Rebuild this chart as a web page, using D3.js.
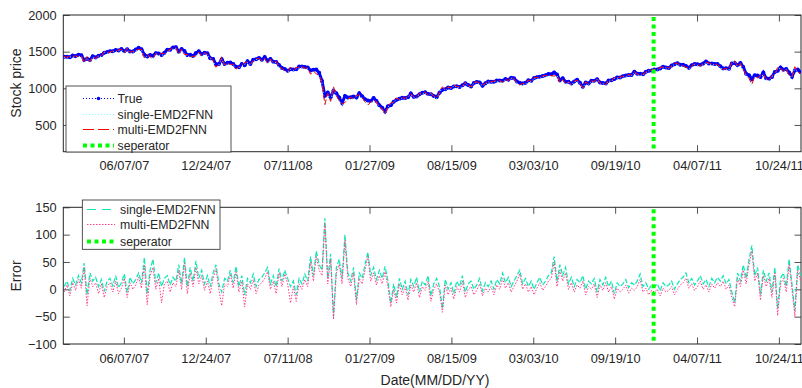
<!DOCTYPE html>
<html><head><meta charset="utf-8">
<script src="https://cdn.jsdelivr.net/npm/d3@7"></script>
<style>
body{margin:0;background:#fff}
svg{display:block}
text{font-family:"Liberation Sans",Arial,sans-serif;fill:#262626}
</style>
</head><body>
<svg id="c" width="802" height="388"></svg>
<script>
// ---- data (weekly samples, first sample on startDate) ----
const startDate = "2007-01-12";
const price = [
1430,1431,1423,1449,1438,1456,1451,1387,1402,1386,1437,1421,1444,1453,1484,1494,1505,1505,1522,1515,
1536,1507,1533,1503,1503,1530,1552,1534,1459,1434,1453,1445,1479,1474,1454,1484,1525,1527,1557,1561,
1500,1535,1509,1453,1458,1441,1481,1504,1468,1484,1478,
1411,1401,1325,1331,1396,1331,1349,1353,1331,1294,1288,1330,1316,1370,1332,1390,1398,1414,1389,1426,
1375,1400,1361,1360,1318,1278,1262,1240,1261,1257,1260,1296,1298,1292,1283,1242,1252,1255,1213,1100,
899,941,877,968,931,873,800,896,876,879,887,873,
932,890,850,832,826,869,827,770,735,683,756,768,815,843,857,870,866,877,929,883,
887,919,940,946,921,918,896,879,940,979,987,1010,1005,1026,1029,1016,1042,1068,1044,1025,
1071,1087,1080,1036,1069,1093,1091,1091,1106,1106,1102,1126,
1115,1145,1136,1092,1074,1066,1075,1109,1104,1139,1150,1159,1167,1178,1194,1192,1217,1187,1111,1136,
1088,1089,1065,1092,1117,1076,1022,1078,1065,1102,1102,1122,1079,1071,1065,1105,1110,1126,1149,1146,
1166,1176,1183,1183,1225,1200,1200,1190,1225,1240,1244,1257,1258,
1271,1293,1284,1276,1310,1329,1343,1320,1321,1304,1279,1314,1332,1329,1320,1337,1364,1340,1338,1333,
1331,1300,1271,1272,1268,1340,1344,1316,1346,1292,1199,1179,1124,1177,1174,1154,1216,1136,1131,1155,
1224,1238,1285,1253,1263,1216,1159,1244,1255,1220
];
const errSingle = [
5,15,-2,20,8,25,12,48,-10,30, 15,22,5,18,-4,15,20,6,25,3,
12,28,-6,22,10,18,30,12,58,-8, 35,55,12,30,5,20,25,8,22,15,
45,10,58,5,40,15,52,20,35,10, 25,5,30,45,10,-5,20,15,35,12,
42,5,25,-10,20,12,28,5,18,22, 30,40,10,25,5,38,15,35,20,5,
15,-10,20,10,28,15,60,25,70,45, 35,130,20,65,-50,40,55,20,100,30,
15,40,-20,30,20,45,68,25,40,18, 35,20,42,15,-25,10,-15,20,0,15,
-10,18,5,22,-5,15,8,25,-12,10, 20,5,-35,18,0,12,-8,15,5,25,
-5,10,15,0,8,20,-3,12,5,15, 0,18,10,30,12,22,5,15,25,35,
10,20,5,15,0,12,22,8,15,25, 30,60,15,45,25,40,10,22,5,18,
12,25,0,15,10,20,-5,18,8,22, 5,15,-8,12,5,10,18,3,12,8,
15,28,5,12,0,8,5,10,-3,12, 5,8,15,0,10,18,22,30,12,20,
8,15,25,10,18,5,20,12,22,15, 25,10,18,-5,-25,30,15,45,20,55,
80,25,40,-10,35,15,30,-5,40,-35, 20,30,5,55,10,-40,45,25
];
const errMulti = [
-5,8,-12,12,-2,18,2,40,-30,20, 5,12,-8,10,-15,5,12,-5,15,-8,
2,20,-15,12,0,8,22,2,45,-28, 25,40,0,20,-25,10,15,-5,12,5,
35,0,48,-8,30,5,40,10,25,-2, 15,-8,20,38,0,-30,10,5,28,2,
32,-5,15,-32,10,0,18,-8,8,12, 20,32,0,15,-8,30,5,28,10,-25,
5,-22,10,0,18,5,50,15,60,35, 25,120,10,55,-55,30,45,10,90,20,
5,30,-28,20,10,35,60,15,30,8, 25,10,32,5,-32,0,-25,10,-10,5,
-20,8,-5,12,-15,5,-2,15,-22,0, 10,-5,-42,8,-10,2,-18,5,-5,15,
-15,0,5,-10,-2,10,-12,2,-5,5, -10,8,0,20,2,12,-5,5,15,28,
0,10,-5,5,-10,2,12,-2,5,15, 20,50,5,35,15,30,0,12,-5,8,
2,15,-10,5,0,10,-15,8,-2,12, -5,5,-18,2,-5,0,8,-7,2,-2,
5,18,-5,2,-10,-2,-5,0,-12,2, -5,-2,5,-10,0,8,12,20,2,10,
-2,5,15,0,8,-5,10,2,12,5, 15,0,8,-15,-32,20,5,35,10,45,
70,15,30,-20,25,5,20,-15,30,-48, 10,20,-5,45,0,-50,35,15
];
const xTickLabels = ["06/07/07","12/24/07","07/11/08","01/27/09","08/15/09","03/03/10","09/19/10","04/07/11","10/24/11"];
const priceTicks = [500,1000,1500,2000];
const errTicks = [-100,-50,0,50,100,150];
const separatorDate = "2010-12-22";
const xLimits = ["2007-01-10","2011-12-17"];
const priceLimits = [135,2000];
const errLimits = [-100,150];

// ---- build ----
const pISO = d3.timeParse("%Y-%m-%d");
const pTick = d3.timeParse("%m/%d/%y");
const t0 = pISO(startDate);
const rows = price.map((v,i)=>({
  date: d3.timeDay.offset(t0, 7*i),
  t: v, es: errSingle[i], em: errMulti[i],
  ps: v - errSingle[i], pm: v - errMulti[i]
}));
const tickDates = xTickLabels.map(s=>pTick(s));
const sepDate = pISO(separatorDate);

const svg = d3.select("#c");
const L = 63.3, R = 801;
const x = d3.scaleTime().domain(xLimits.map(pISO)).range([L, R]);
const yT = d3.scaleLinear().domain(priceLimits).range([151.7, 15]);
const yB = d3.scaleLinear().domain(errLimits).range([344, 207.3]);
const axisCol = "#262626";
const TS = 6.5;

function panel(y, yTicks, clipId){
  const top = y.range()[1], bot = y.range()[0];
  svg.append("clipPath").attr("id",clipId).append("rect")
    .attr("x",L).attr("y",top).attr("width",R-L).attr("height",bot-top);
  const g = svg.append("g");
  const ab = g.append("g").attr("transform",`translate(0,${bot})`)
    .call(d3.axisBottom(x).tickValues(tickDates).tickFormat((d,i)=>xTickLabels[i])
      .tickSizeInner(-TS).tickSizeOuter(0).tickPadding(9.5));
  const at = g.append("g").attr("transform",`translate(0,${top})`)
    .call(d3.axisTop(x).tickValues(tickDates).tickFormat("").tickSizeInner(-TS).tickSizeOuter(0));
  const al = g.append("g").attr("transform",`translate(${L},0)`)
    .call(d3.axisLeft(y).tickValues(yTicks).tickFormat(d3.format("d")).tickSizeInner(-TS).tickSizeOuter(0).tickPadding(6.6));
  const ar = g.append("g").attr("transform",`translate(${R},0)`)
    .call(d3.axisRight(y).tickValues(yTicks).tickFormat("").tickSizeInner(-TS).tickSizeOuter(0));
  [ab,at,al,ar].forEach(a=>{
    a.select(".domain").remove();
    a.selectAll("line").attr("stroke",axisCol).attr("stroke-width",0.8);
    a.selectAll("text").attr("font-size","12.8px").attr("fill",axisCol)
      .style("font-family","'Liberation Sans',Arial,sans-serif");
  });
  g.append("rect").attr("x",L).attr("y",top).attr("width",R-L).attr("height",bot-top)
    .attr("fill","none").attr("stroke",axisCol).attr("stroke-width",1);
  return svg.append("g").attr("clip-path",`url(#${clipId})`);
}

// ---- top panel ----
const gT = panel(yT, priceTicks, "clipT");
const lineT = k => d3.line().x(d=>x(d.date)).y(d=>yT(d[k]));
gT.append("path").datum(rows).attr("d",lineT("t")).attr("fill","none")
  .attr("stroke","#0000ff").attr("stroke-width",3);
gT.selectAll("circle.t").data(rows).join("circle").attr("class","t")
  .attr("cx",d=>x(d.date)).attr("cy",d=>yT(d.t)).attr("r",2).attr("fill","#0000ff");
gT.append("path").datum(rows).attr("d",lineT("ps")).attr("fill","none")
  .attr("stroke","#7fffff").attr("stroke-width",1).attr("stroke-dasharray","1,2");
gT.append("path").datum(rows).attr("d",lineT("pm")).attr("fill","none")
  .attr("stroke","#ff0000").attr("stroke-width",1).attr("stroke-dasharray","6,3");
gT.append("line").attr("x1",x(sepDate)).attr("x2",x(sepDate))
  .attr("y1",yT.range()[1]+2).attr("y2",yT.range()[0])
  .attr("stroke","#00ff00").attr("stroke-width",4).attr("stroke-dasharray","4,3.5");

// ---- bottom panel ----
const gB = panel(yB, errTicks, "clipB");
const lineB = k => d3.line().x(d=>x(d.date)).y(d=>yB(d[k]));
gB.append("path").datum(rows).attr("d",lineB("es")).attr("fill","none")
  .attr("stroke","#10e6b4").attr("stroke-width",1.2).attr("stroke-dasharray","5,2");
gB.append("path").datum(rows).attr("d",lineB("em")).attr("fill","none")
  .attr("stroke","#ff3d8b").attr("stroke-width",1).attr("stroke-dasharray","1.5,1.5");
gB.append("line").attr("x1",x(sepDate)).attr("x2",x(sepDate))
  .attr("y1",yB.range()[1]+2).attr("y2",yB.range()[0])
  .attr("stroke","#00ff00").attr("stroke-width",4).attr("stroke-dasharray","4,3.5");

// ---- axis titles ----
svg.append("text").attr("transform","translate(21,83) rotate(-90)").attr("text-anchor","middle")
  .attr("font-size","14px").text("Stock price");
svg.append("text").attr("transform","translate(21,276) rotate(-90)").attr("text-anchor","middle")
  .attr("font-size","14px").text("Error");
svg.append("text").attr("x",435).attr("y",385).attr("text-anchor","middle")
  .attr("font-size","14px").text("Date(MM/DD/YY)");

// ---- legends ----
function legend(box, items){
  const g = svg.append("g");
  g.append("rect").attr("x",box.x).attr("y",box.y).attr("width",box.w).attr("height",box.h)
    .attr("fill","#fff").attr("stroke",axisCol).attr("stroke-width",0.8);
  items.forEach((it,i)=>{
    const yy = box.ys[i];
    g.append("line").attr("x1",box.lx0).attr("x2",box.lx1).attr("y1",yy).attr("y2",yy)
      .attr("stroke",it.color).attr("stroke-width",it.w).attr("stroke-dasharray",it.dash);
    if(it.marker) g.append("circle").attr("cx",(box.lx0+box.lx1)/2).attr("cy",yy).attr("r",1.8).attr("fill",it.color);
    g.append("text").attr("x",box.tx).attr("y",yy).attr("dy","0.35em")
      .attr("font-size","12.3px").text(it.label);
  });
}
legend({x:66,y:86,w:165,h:66,lx0:83,lx1:114,tx:117.5,ys:[98.5,114.5,129.5,145.5]},[
  {label:"True",color:"#0000ff",w:1,dash:"1,2",marker:true},
  {label:"single-EMD2FNN",color:"#7fffff",w:1,dash:"1,2"},
  {label:"multi-EMD2FNN",color:"#ff0000",w:1,dash:"11,4"},
  {label:"seperator",color:"#00ff00",w:4,dash:"4,3.5"}
]);
legend({x:82.3,y:200,w:137.7,h:49.3,lx0:87,lx1:115,tx:120,ys:[209.5,224.5,241.5]},[
  {label:"single-EMD2FNN",color:"#10e6b4",w:1,dash:"9,6"},
  {label:"multi-EMD2FNN",color:"#ff3d8b",w:1,dash:"1.5,1.5"},
  {label:"seperator",color:"#00ff00",w:4,dash:"4,3.5"}
]);
</script>
</body></html>
